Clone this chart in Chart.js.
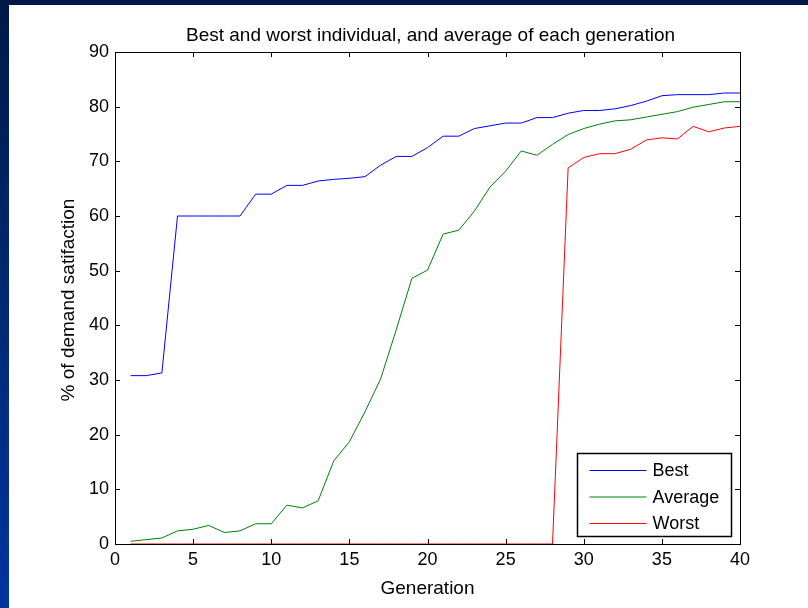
<!DOCTYPE html>
<html>
<head>
<meta charset="utf-8">
<script src="https://cdn.jsdelivr.net/npm/chart.js@4.4.1/dist/chart.umd.min.js"></script>
<style>
  html, body { margin: 0; padding: 0; }
  body {
    width: 808px; height: 608px; overflow: hidden; position: relative;
    background: #ffffff;
  }
  #topBar { position: absolute; left: 0; top: 0; width: 808px; height: 5px; background: #001848; }
  #leftBar {
    position: absolute; left: 0; top: 0; width: 9px; height: 608px;
    background: linear-gradient(to bottom, #001848 0%, #00286e 45%, #0033a0 100%);
  }
  #wrap { position: absolute; left: 9px; top: 5px; width: 799px; height: 603px; }
</style>
</head>
<body>
<div id="topBar"></div>
<div id="leftBar"></div>
<div id="wrap"><canvas id="gaChart"></canvas></div>
<script>
// Data
const generations = [1, 2, 3, 4, 5, 6, 7, 8, 9, 10, 11, 12, 13, 14, 15, 16, 17, 18, 19, 20,
  21, 22, 23, 24, 25, 26, 27, 28, 29, 30, 31, 32, 33, 34, 35, 36, 37, 38, 39, 40];
const best = [30.8, 30.8, 31.3, 60.0, 60.0, 60.0, 60.0, 60.0, 64.0, 64.0,
  65.6, 65.6, 66.4, 66.7, 66.9, 67.2, 69.3, 70.9, 70.9, 72.5,
  74.6, 74.6, 76.0, 76.5, 77.0, 77.0, 78.0, 78.0, 78.8, 79.3,
  79.3, 79.6, 80.2, 81.0, 82.0, 82.2, 82.2, 82.2, 82.5, 82.5];
const average = [0.5, 0.8, 1.1, 2.4, 2.7, 3.4, 2.1, 2.4, 3.7, 3.7,
  7.1, 6.6, 7.9, 15.2, 18.7, 24.2, 30.2, 39.2, 48.6, 50.1,
  56.7, 57.4, 60.9, 65.3, 68.2, 71.9, 71.1, 73.1, 74.9, 76.0,
  76.8, 77.4, 77.6, 78.1, 78.6, 79.1, 79.9, 80.4, 80.9, 80.9];
const worst = [0, 0, 0, 0, 0, 0, 0, 0, 0, 0,
  0, 0, 0, 0, 0, 0, 0, 0, 0, 0,
  0, 0, 0, 0, 0, 0, 0, 0, 68.8, 70.7,
  71.4, 71.4, 72.2, 73.9, 74.3, 74.1, 76.4, 75.4, 76.1, 76.4];
const seriesNames = ['Best', 'Average', 'Worst'];
const seriesColors = ['#0000ff', '#008000', '#ff0000'];

const titleText = 'Best and worst individual, and average of each generation';
const xLabel = 'Generation';
const yLabel = '% of demand satifaction';
const FONT = '"Liberation Sans", Arial, Helvetica, sans-serif';

function toPoints(values) {
  return generations.map((g, i) => ({ x: g, y: values[i] }));
}

// box, inward ticks, title, axis labels and legend in matlab style
const matlabFrame = {
  id: 'matlabFrame',
  afterDraw(chart) {
    const { ctx, chartArea: a, scales } = chart;
    ctx.save();
    ctx.strokeStyle = '#000';
    ctx.lineWidth = 1;
    ctx.strokeRect(Math.round(a.left) + 0.5, Math.round(a.top) + 0.5,
      Math.round(a.right - a.left), Math.round(a.bottom - a.top));

    const tl = 5;
    ctx.beginPath();
    scales.x.ticks.forEach(t => {
      const px = Math.round(scales.x.getPixelForValue(t.value)) + 0.5;
      ctx.moveTo(px, a.bottom); ctx.lineTo(px, a.bottom - tl);
      ctx.moveTo(px, a.top); ctx.lineTo(px, a.top + tl);
    });
    scales.y.ticks.forEach(t => {
      const py = Math.round(scales.y.getPixelForValue(t.value)) + 0.5;
      ctx.moveTo(a.left, py); ctx.lineTo(a.left + tl, py);
      ctx.moveTo(a.right, py); ctx.lineTo(a.right - tl, py);
    });
    ctx.stroke();

    // title and axis labels
    ctx.fillStyle = '#000';
    ctx.textAlign = 'center';
    ctx.textBaseline = 'middle';
    ctx.font = '19px ' + FONT;
    ctx.fillText(titleText, (a.left + a.right) / 2 + 3, 31);
    ctx.fillText(xLabel, (a.left + a.right) / 2, 584);
    ctx.save();
    ctx.translate(60, (a.top + a.bottom) / 2 + 2);
    ctx.rotate(-Math.PI / 2);
    ctx.fillText(yLabel, 0, 0);
    ctx.restore();

    // legend
    const lx = 568.5, ly = 448.5, lw = 154, lh = 83;
    ctx.fillStyle = '#fff';
    ctx.fillRect(lx, ly, lw, lh);
    ctx.lineWidth = 1.5;
    ctx.strokeStyle = '#000';
    ctx.strokeRect(lx, ly, lw, lh);
    ctx.textAlign = 'left';
    ctx.font = '18px ' + FONT;
    chart.data.datasets.forEach((ds, i) => {
      const y = ly + 17 + i * 26.5;
      ctx.strokeStyle = ds.borderColor;
      ctx.lineWidth = 1;
      ctx.beginPath();
      ctx.moveTo(lx + 12, y); ctx.lineTo(lx + 69, y);
      ctx.stroke();
      ctx.fillStyle = '#000';
      ctx.fillText(ds.label, lx + 75, y + 1);
    });
    ctx.restore();
  }
};

new Chart(document.getElementById('gaChart'), {
  type: 'line',
  data: {
    datasets: [
      { label: seriesNames[0], data: toPoints(best), borderColor: seriesColors[0] },
      { label: seriesNames[1], data: toPoints(average), borderColor: seriesColors[1] },
      { label: seriesNames[2], data: toPoints(worst), borderColor: seriesColors[2] }
    ].map(ds => ({ ...ds, borderWidth: 1, pointRadius: 0, tension: 0, fill: false, clip: 2 }))
  },
  options: {
    responsive: true,
    maintainAspectRatio: false,
    animation: false,
    layout: { padding: { top: 47, right: 68, left: 0, bottom: 0 } },
    plugins: { legend: { display: false }, title: { display: false }, tooltip: { enabled: false } },
    scales: {
      x: {
        type: 'linear', min: 0, max: 40,
        ticks: { stepSize: 5, color: '#000', padding: 5, font: { size: 18, family: FONT } },
        grid: { display: false, drawTicks: false },
        border: { display: true, color: '#000' },
        afterFit(scale) { scale.height = 64; }
      },
      y: {
        type: 'linear', min: 0, max: 90,
        ticks: { stepSize: 10, color: '#000', padding: 6, font: { size: 18, family: FONT } },
        grid: { display: false, drawTicks: false },
        border: { display: true, color: '#000' },
        afterFit(scale) { scale.width = 106; }
      }
    }
  },
  plugins: [matlabFrame]
});
</script>
</body>
</html>
